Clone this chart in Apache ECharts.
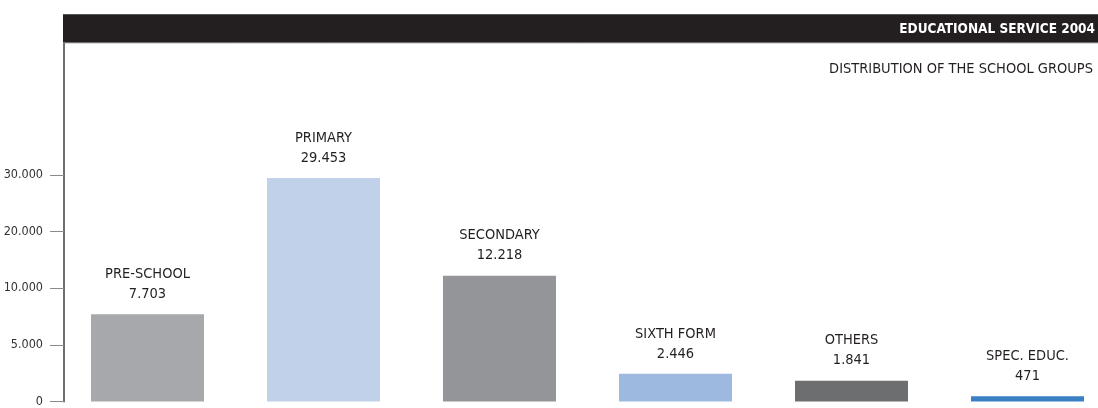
<!DOCTYPE html>
<html>
<head>
<meta charset="utf-8">
<script src="https://cdn.jsdelivr.net/npm/echarts@6/dist/echarts.min.js"></script>
<style>
html,body{margin:0;padding:0;background:#fff;}
#chart{width:1098px;height:408px;}
</style>
</head>
<body>
<div id="chart"></div>
<script>
// ---- data ----
const categories = ['PRE-SCHOOL', 'PRIMARY', 'SECONDARY', 'SIXTH FORM', 'OTHERS', 'SPEC. EDUC.'];
const values = [7703, 29453, 12218, 2446, 1841, 471];
const tickValues = [0, 5000, 10000, 20000, 30000];
const tickLabels = ['0', '5.000', '10.000', '20.000', '30.000'];
const titleText = 'EDUCATIONAL SERVICE 2004';
const subtitleText = 'DISTRIBUTION OF THE SCHOOL GROUPS';

// ---- styles ----
const barColors = ['#a7a8ab', '#c2d1ea', '#949599', '#9db9e0', '#6d6e70', '#3b7fc4'];
const FONT = "'Liberation Sans Narrow', 'DejaVu Sans Condensed', 'Roboto Condensed', sans-serif";

// piecewise-linear scale used by the original axis (equal spacing between ticks)
function toAxis(v) {
  for (let i = 1; i < tickValues.length; i++) {
    if (v <= tickValues[i]) {
      return (i - 1) + (v - tickValues[i - 1]) / (tickValues[i] - tickValues[i - 1]);
    }
  }
  const n = tickValues.length - 1;
  return n + (v - tickValues[n]) / (tickValues[n] - tickValues[n - 1]);
}
function fmt(v) {
  return String(v).replace(/\B(?=(\d{3})+(?!\d))/g, '.');
}

const chart = echarts.init(document.getElementById('chart'), null, {renderer: 'canvas'});
const tickIdx = tickValues.map((_, i) => i);

chart.setOption({
  animation: false,
  backgroundColor: '#ffffff',
  grid: {left: 64, right: 0, top: 43, bottom: 1.7},
  graphic: [
    {type: 'rect', z: 0, shape: {x: 63, y: 14.3, width: 1040, height: 28.5}, style: {fill: '#231f20'}},
    {type: 'line', z: 1, shape: {x1: 63, y1: 42.8, x2: 1098, y2: 42.8}, style: {stroke: '#7a7a7a', lineWidth: 1}}
  ],
  title: [
    {text: titleText, right: 3, top: 22, padding: 0,
      textStyle: {color: '#ffffff', fontFamily: FONT, fontWeight: 'bold', fontSize: 13.5}},
    {text: subtitleText, right: 5, top: 62, padding: 0,
      textStyle: {color: '#231f20', fontFamily: FONT, fontWeight: 'normal', fontSize: 14.5}}
  ],
  xAxis: {
    type: 'value',
    min: -0.4744,
    max: 5.4006,
    axisLine: {show: false},
    axisTick: {show: false},
    axisLabel: {show: false},
    splitLine: {show: false}
  },
  yAxis: {
    type: 'value',
    min: 0,
    max: 6.33,
    splitLine: {show: false},
    axisLine: {show: true, onZero: false, lineStyle: {color: '#6d6e70', width: 2}},
    axisTick: {show: true, length: 14, inside: false, customValues: tickIdx,
      lineStyle: {color: '#8a8a8a', width: 1}},
    axisLabel: {show: true, customValues: tickIdx, margin: 21,
      formatter: v => tickLabels[Math.round(v)] ?? '',
      color: '#333333', fontFamily: FONT, fontSize: 12.5}
  },
  series: [{
    type: 'bar',
    barWidth: 113,
    data: values.map((v, i) => ({
      value: [i, toAxis(v)],
      itemStyle: {color: barColors[i]},
      label: {formatter: categories[i] + '\n' + fmt(v)}
    })),
    label: {
      show: true, position: 'top', distance: 10,
      color: '#231f20', fontFamily: FONT, fontSize: 14.5, lineHeight: 20, align: 'center'
    }
  }]
});
</script>
</body>
</html>
